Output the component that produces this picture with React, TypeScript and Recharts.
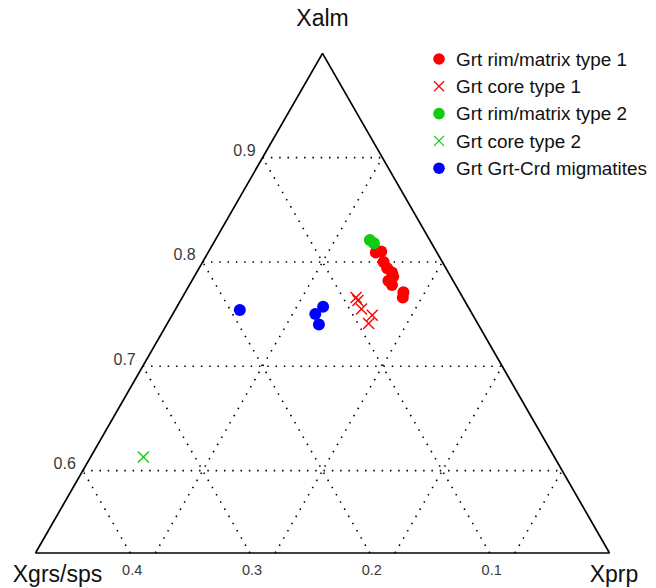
import React from 'react';
import { ScatterChart, Scatter, XAxis, YAxis, ReferenceLine, ReferenceDot, Legend } from 'recharts';

// ---- data (ternary: [Xalm, Xprp, Xgrs/sps]) ----
const rimType1: number[][] = [
  [0.809, 0.140, 0.051],
  [0.810, 0.144, 0.046],
  [0.800, 0.151, 0.049],
  [0.794, 0.157, 0.049],
  [0.790, 0.163, 0.047],
  [0.786, 0.166, 0.048],
  [0.782, 0.164, 0.054],
  [0.778, 0.169, 0.053],
  [0.771, 0.182, 0.047],
  [0.766, 0.184, 0.050],
];
const coreType1: number[][] = [
  [0.766, 0.145, 0.089],
  [0.763, 0.148, 0.089],
  [0.755, 0.155, 0.090],
  [0.749, 0.167, 0.084],
  [0.741, 0.168, 0.091],
];
const rimType2: number[][] = [
  [0.821, 0.129, 0.050],
  [0.818, 0.134, 0.048],
];
const coreType2: number[][] = [
  [0.613, 0.044, 0.343],
];
const migmatites: number[][] = [
  [0.754, 0.054, 0.192],
  [0.757, 0.122, 0.121],
  [0.750, 0.119, 0.131],
  [0.740, 0.127, 0.133],
];

const seriesNames = [
  'Grt rim/matrix type 1',
  'Grt core type 1',
  'Grt rim/matrix type 2',
  'Grt core type 2',
  'Grt Grt-Crd migmatites',
];

const almTicks = [0.6, 0.7, 0.8, 0.9];
const grsTicks = [0.1, 0.2, 0.3, 0.4];
const prpTicks = [0.1, 0.2, 0.3, 0.4];
const ALM_MIN = 0.521;
const SPAN = 1 - ALM_MIN;

const vertexTop = [1, 0, 0];
const vertexLeft = [ALM_MIN, 0, SPAN];
const vertexRight = [ALM_MIN, SPAN, 0];

// ---- helpers ----
const toXY = (t: number[]) => ({ x: t[1] - t[2], y: t[0] });
const toPoints = (arr: number[][]) => arr.map(toXY);

const RED = '#ff0000';
const GREEN = '#11cc11';
const BLUE = '#0000ff';
const FONT = 'Arial, "Liberation Sans", Helvetica, sans-serif';

const circleShape = (color: string) => (p: any) => (
  <circle cx={p.cx} cy={p.cy} r={6} fill={color} />
);
const crossShape = (color: string) => (p: any) => {
  const h = 5.5;
  return (
    <g stroke={color} strokeWidth={1.4}>
      <line x1={p.cx - h} y1={p.cy - h} x2={p.cx + h} y2={p.cy + h} />
      <line x1={p.cx - h} y1={p.cy + h} x2={p.cx + h} y2={p.cy - h} />
    </g>
  );
};

const legendStyles = [
  { color: RED, kind: 'circle' },
  { color: RED, kind: 'cross' },
  { color: GREEN, kind: 'circle' },
  { color: GREEN, kind: 'cross' },
  { color: BLUE, kind: 'circle' },
];

const LEGEND_W = 226;

const renderLegend = () => (
  <svg width={LEGEND_W} height={150} style={{ display: 'block' }}>
    {seriesNames.map((name, i) => {
      const cy = 13 + i * 27.3;
      const st = legendStyles[i];
      return (
        <g key={name}>
          {st.kind === 'circle' ? (
            <circle cx={11} cy={cy} r={5.8} fill={st.color} />
          ) : (
            <g stroke={st.color} strokeWidth={1.3}>
              <line x1={6} y1={cy - 5} x2={16} y2={cy + 5} />
              <line x1={6} y1={cy + 5} x2={16} y2={cy - 5} />
            </g>
          )}
          <text x={28} y={cy + 6.7} fontSize={18.9} fontFamily={FONT} fill="#111">
            {name}
          </text>
        </g>
      );
    })}
  </svg>
);

const EDGE = { stroke: '#000', strokeWidth: 1.7 };
const GRID = { stroke: '#000', strokeWidth: 1.6, strokeDasharray: '1.5 6.8' };

export default function App() {
  const top = toXY(vertexTop);
  const left = toXY(vertexLeft);
  const right = toXY(vertexRight);

  return (
    <div style={{ position: 'relative', top: -8, width: 648, height: 588 }}>
      <ScatterChart
        width={648}
        height={588}
        margin={{ top: 53.3, right: 46.5, bottom: 35, left: 27.5 }}
      >
        <XAxis type="number" dataKey="x" domain={[-SPAN, SPAN]} allowDataOverflow hide />
        <YAxis type="number" dataKey="y" domain={[ALM_MIN, 1]} allowDataOverflow hide />

        {/* grid lines */}
        {almTicks.map((v) => (
          <ReferenceLine
            key={'a' + v}
            segment={[toXY([v, 0, 1 - v]), toXY([v, 1 - v, 0])]}
            ifOverflow="visible"
            {...GRID}
          />
        ))}
        {grsTicks.map((g) => (
          <ReferenceLine
            key={'g' + g}
            segment={[toXY([ALM_MIN, SPAN - g, g]), toXY([1 - g, 0, g])]}
            ifOverflow="visible"
            {...GRID}
          />
        ))}
        {prpTicks.map((p) => (
          <ReferenceLine
            key={'p' + p}
            segment={[toXY([ALM_MIN, p, SPAN - p]), toXY([1 - p, p, 0])]}
            ifOverflow="visible"
            {...GRID}
          />
        ))}

        {/* triangle */}
        <ReferenceLine segment={[left, top]} ifOverflow="visible" {...EDGE} />
        <ReferenceLine segment={[top, right]} ifOverflow="visible" {...EDGE} />
        <ReferenceLine segment={[left, right]} ifOverflow="visible" {...EDGE} />

        {/* tick labels */}
        {almTicks.map((v) => {
          const pt = toXY([v, 0, 1 - v]);
          return (
            <ReferenceDot
              key={'al' + v}
              x={pt.x}
              y={pt.y}
              r={0}
              fill="none"
              stroke="none"
              ifOverflow="visible"
              label={(p: any) => (
                <text x={p.viewBox.x - 7} y={p.viewBox.y - 1.5} textAnchor="end" fontSize={16} fontFamily={FONT} fill="#3a3a3a">
                  {v.toFixed(1)}
                </text>
              )}
            />
          );
        })}
        {grsTicks.map((g) => {
          const pt = toXY([ALM_MIN, SPAN - g, g]);
          return (
            <ReferenceDot
              key={'gl' + g}
              x={pt.x}
              y={pt.y}
              r={0}
              fill="none"
              stroke="none"
              ifOverflow="visible"
              label={(p: any) => (
                <text x={p.viewBox.x + 2} y={p.viewBox.y + 22.2} textAnchor="middle" fontSize={14.5} fontFamily={FONT} fill="#3a3a3a">
                  {g.toFixed(1)}
                </text>
              )}
            />
          );
        })}

        {/* vertex titles */}
        <ReferenceDot
          x={top.x} y={top.y} r={0} fill="none" stroke="none" ifOverflow="visible"
          label={(p: any) => (
            <text x={p.viewBox.x} y={p.viewBox.y - 27.3} textAnchor="middle" fontSize={23} fontFamily={FONT} fill="#111">Xalm</text>
          )}
        />
        <ReferenceDot
          x={left.x} y={left.y} r={0} fill="none" stroke="none" ifOverflow="visible"
          label={(p: any) => (
            <text x={p.viewBox.x + 22} y={p.viewBox.y + 28.7} textAnchor="middle" fontSize={23} fontFamily={FONT} fill="#111">Xgrs/sps</text>
          )}
        />
        <ReferenceDot
          x={right.x} y={right.y} r={0} fill="none" stroke="none" ifOverflow="visible"
          label={(p: any) => (
            <text x={p.viewBox.x + 4.5} y={p.viewBox.y + 28.7} textAnchor="middle" fontSize={23} fontFamily={FONT} fill="#111">Xprp</text>
          )}
        />

        {/* data */}
        <Scatter name={seriesNames[0]} data={toPoints(rimType1)} shape={circleShape(RED)} isAnimationActive={false} />
        <Scatter name={seriesNames[1]} data={toPoints(coreType1)} shape={crossShape(RED)} isAnimationActive={false} />
        <Scatter name={seriesNames[2]} data={toPoints(rimType2)} shape={circleShape(GREEN)} isAnimationActive={false} />
        <Scatter name={seriesNames[3]} data={toPoints(coreType2)} shape={crossShape(GREEN)} isAnimationActive={false} />
        <Scatter name={seriesNames[4]} data={toPoints(migmatites)} shape={circleShape(BLUE)} isAnimationActive={false} />

        <Legend
          layout="vertical"
          align="center"
          verticalAlign="middle"
          content={renderLegend}
          wrapperStyle={{ left: 420, top: 46, width: LEGEND_W, height: 150 }}
        />
      </ScatterChart>
    </div>
  );
}
